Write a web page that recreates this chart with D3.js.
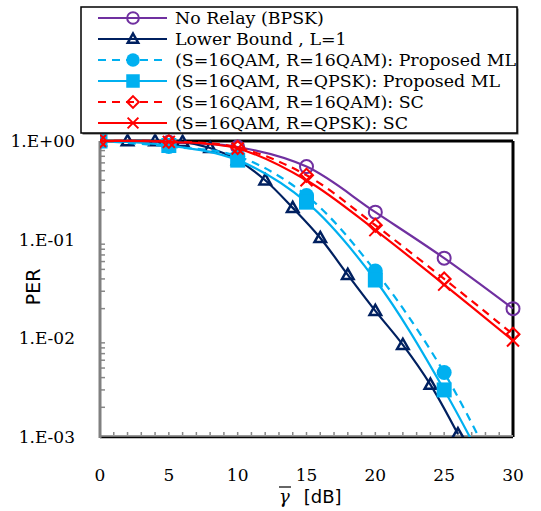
<!DOCTYPE html>
<html lang="en">
<head>
<meta charset="UTF-8" />
<title>PER vs SNR</title>
<script src="https://cdn.jsdelivr.net/npm/d3@7"></script>
<style>
  body { margin: 0; background: #fff; }
  .serif { font-family: "DejaVu Serif", serif; fill: #000; }
  .tick-label { font-size: 17px; }
  .legend-text { font-size: 17.4px; }
</style>
</head>
<body>
<svg id="chart" width="541" height="511"></svg>
<script>
// values
const snrFull = [0, 5, 10, 15, 20, 25, 30];
const snrBound = [0, 2, 4, 6, 8, 10, 12, 14, 16, 18, 20, 22, 24, 26];

const perNoRelay = [1.0, 0.97, 0.87, 0.55, 0.19, 0.065, 0.020];
const perBound = [1.0, 1.0, 1.0, 0.98, 0.85, 0.64, 0.40, 0.21, 0.104, 0.044, 0.019, 0.0086, 0.0034, 0.00107];
const perML16 = [1.0, 0.88, 0.70, 0.28, 0.048, 0.0045, 0.0002];
const perMLQ = [1.0, 0.90, 0.64, 0.24, 0.039, 0.0030, 0.00014];
const perSC16 = [1.0, 0.99, 0.86, 0.45, 0.14, 0.040, 0.011];
const perSCQ = [1.0, 0.98, 0.84, 0.40, 0.125, 0.035, 0.0095];

const xTicks = [0, 5, 10, 15, 20, 25, 30];
const yTicks = [1, 0.1, 0.01, 0.001];
const yTickLabels = ["1.E+00", "1.E-01", "1.E-02", "1.E-03"];

const series = [
  { name: "No Relay (BPSK)", x: snrFull, y: perNoRelay, color: "#7030A0", dash: null, marker: "circleOpen" },
  { name: "Lower Bound , L=1", x: snrBound, y: perBound, color: "#002060", dash: null, marker: "triangle" },
  { name: "(S=16QAM, R=16QAM): Proposed ML", x: snrFull, y: perML16, color: "#00B0F0", dash: "8,6", marker: "circleFill" },
  { name: "(S=16QAM, R=QPSK): Proposed ML", x: snrFull, y: perMLQ, color: "#00B0F0", dash: null, marker: "square" },
  { name: "(S=16QAM, R=16QAM): SC", x: snrFull, y: perSC16, color: "#FF0000", dash: "8,6", marker: "diamond" },
  { name: "(S=16QAM, R=QPSK): SC", x: snrFull, y: perSCQ, color: "#FF0000", dash: null, marker: "cross" }
];

const svg = d3.select("#chart");
const pLeft = 100, pRight = 513, pTop = 141, pBottom = 437;

const x = d3.scaleLinear().domain([0, 30]).range([pLeft, pRight]);
const y = d3.scaleLog().domain([0.001, 1]).range([pBottom, pTop]);

svg.append("defs").append("clipPath").attr("id", "plotclip")
  .append("rect").attr("x", pLeft).attr("y", pTop - 10).attr("width", pRight - pLeft + 10).attr("height", pBottom - pTop + 10);

// minor ticks, left (log) and bottom
const minorY = [];
[0.001, 0.01, 0.1].forEach(d => { for (let k = 2; k <= 9; k++) minorY.push(d * k); });
svg.append("g").selectAll("line").data(minorY).join("line")
  .attr("x1", pLeft).attr("x2", pLeft + 5)
  .attr("y1", d => y(d)).attr("y2", d => y(d))
  .attr("stroke", "#888").attr("stroke-width", 1.5);

svg.append("g").selectAll("line").data(d3.range(1, 30)).join("line")
  .attr("x1", d => x(d)).attr("x2", d => x(d))
  .attr("y1", pBottom).attr("y2", pBottom - 5)
  .attr("stroke", "#888").attr("stroke-width", 1.5);

// frame
svg.append("line").attr("x1", pLeft).attr("x2", pRight).attr("y1", pTop).attr("y2", pTop)
  .attr("stroke", "#000").attr("stroke-width", 3);
svg.append("line").attr("x1", pRight).attr("x2", pRight).attr("y1", pTop).attr("y2", pBottom)
  .attr("stroke", "#000").attr("stroke-width", 3);
svg.append("line").attr("x1", pLeft).attr("x2", pRight).attr("y1", pBottom - 1).attr("y2", pBottom - 1)
  .attr("stroke", "#999").attr("stroke-width", 2);
svg.append("line").attr("x1", pLeft).attr("x2", pRight).attr("y1", pBottom + 0.5).attr("y2", pBottom + 0.5)
  .attr("stroke", "#000").attr("stroke-width", 1.5);
svg.append("line").attr("x1", pLeft).attr("x2", pLeft).attr("y1", pTop).attr("y2", pBottom + 1)
  .attr("stroke", "#808080").attr("stroke-width", 3);

// tick labels
svg.append("g").selectAll("text").data(yTicks).join("text")
  .attr("class", "serif tick-label")
  .attr("x", 75).attr("y", d => y(d) + 6)
  .attr("text-anchor", "end")
  .text((d, i) => yTickLabels[i]);

svg.append("g").selectAll("text").data(xTicks).join("text")
  .attr("class", "serif tick-label")
  .attr("x", d => x(d)).attr("y", 481)
  .attr("text-anchor", "middle")
  .text(d => d);

// axis titles
svg.append("text")
  .attr("transform", "translate(40,287) rotate(-90)")
  .attr("text-anchor", "middle")
  .style("font-family", "'DejaVu Sans', sans-serif").style("font-size", "19px")
  .text("PER");

const xl = svg.append("text").attr("x", 279).attr("y", 503)
  .style("font-size", "18px");
xl.append("tspan").attr("class", "serif").style("font-style", "italic").text("γ");
xl.append("tspan").attr("dx", 14).style("font-family", "'DejaVu Sans', sans-serif").style("font-size", "18px").text("[dB]");
svg.append("line").attr("x1", 279).attr("x2", 291).attr("y1", 487).attr("y2", 487)
  .attr("stroke", "#000").attr("stroke-width", 1.2);

// markers
function drawMarker(g, type, cx, cy, color, scale) {
  const s = scale || 1;
  if (type === "circleOpen") {
    g.append("circle").attr("cx", cx).attr("cy", cy).attr("r", 6.5 * s)
      .attr("fill", "none").attr("stroke", color).attr("stroke-width", 2);
  } else if (type === "circleFill") {
    g.append("circle").attr("cx", cx).attr("cy", cy).attr("r", 7.5 * s).attr("fill", color);
  } else if (type === "square") {
    const h = 7.5 * s;
    g.append("rect").attr("x", cx - h).attr("y", cy - h).attr("width", 2 * h).attr("height", 2 * h).attr("fill", color);
  } else if (type === "triangle") {
    const h = 5.5 * s;
    g.append("path")
      .attr("d", `M${cx},${cy - h * 1.1}L${cx + h * 1.05},${cy + h * 0.75}L${cx - h * 1.05},${cy + h * 0.75}Z`)
      .attr("fill", "none").attr("stroke", color).attr("stroke-width", 2.5).attr("stroke-linejoin", "miter");
  } else if (type === "diamond") {
    const h = 6.5 * s;
    g.append("path")
      .attr("d", `M${cx},${cy - h}L${cx + h},${cy}L${cx},${cy + h}L${cx - h},${cy}Z`)
      .attr("fill", "none").attr("stroke", color).attr("stroke-width", 2);
  } else if (type === "cross") {
    const h = 6 * s;
    g.append("path")
      .attr("d", `M${cx - h},${cy - h}L${cx + h},${cy + h}M${cx - h},${cy + h}L${cx + h},${cy - h}`)
      .attr("fill", "none").attr("stroke", color).attr("stroke-width", 2);
  }
}

// series
const plot = svg.append("g").attr("clip-path", "url(#plotclip)");
const line = d3.line().curve(d3.curveCatmullRom.alpha(0.5));

series.forEach(s => {
  const pts = s.x.map((v, i) => [x(v), y(s.y[i])]);
  plot.append("path")
    .attr("d", line(pts))
    .attr("fill", "none")
    .attr("stroke", s.color)
    .attr("stroke-width", 2.2)
    .attr("stroke-dasharray", s.dash);
  const mg = plot.append("g");
  pts.forEach(p => drawMarker(mg, s.marker, p[0], p[1], s.color));
});

// legend
const lg = svg.append("g");
lg.append("rect").attr("x", 82.5).attr("y", 8.5).attr("width", 436).attr("height", 126).attr("fill", "#555");
lg.append("rect").attr("x", 81).attr("y", 7).attr("width", 436).attr("height", 126)
  .attr("fill", "#fff").attr("stroke", "#000").attr("stroke-width", 1.5);

const rowY = d3.scaleLinear().domain([0, 5]).range([18, 123]);
series.forEach((s, i) => {
  const cy = rowY(i);
  lg.append("line").attr("x1", 98).attr("x2", 167).attr("y1", cy).attr("y2", cy)
    .attr("stroke", s.color).attr("stroke-width", 2.2)
    .attr("stroke-dasharray", s.dash);
  drawMarker(lg, s.marker, 133, cy, s.color, 0.9);
  lg.append("text").attr("class", "serif legend-text")
    .attr("x", 175).attr("y", cy + 6)
    .text(s.name);
});
</script>
</body>
</html>
